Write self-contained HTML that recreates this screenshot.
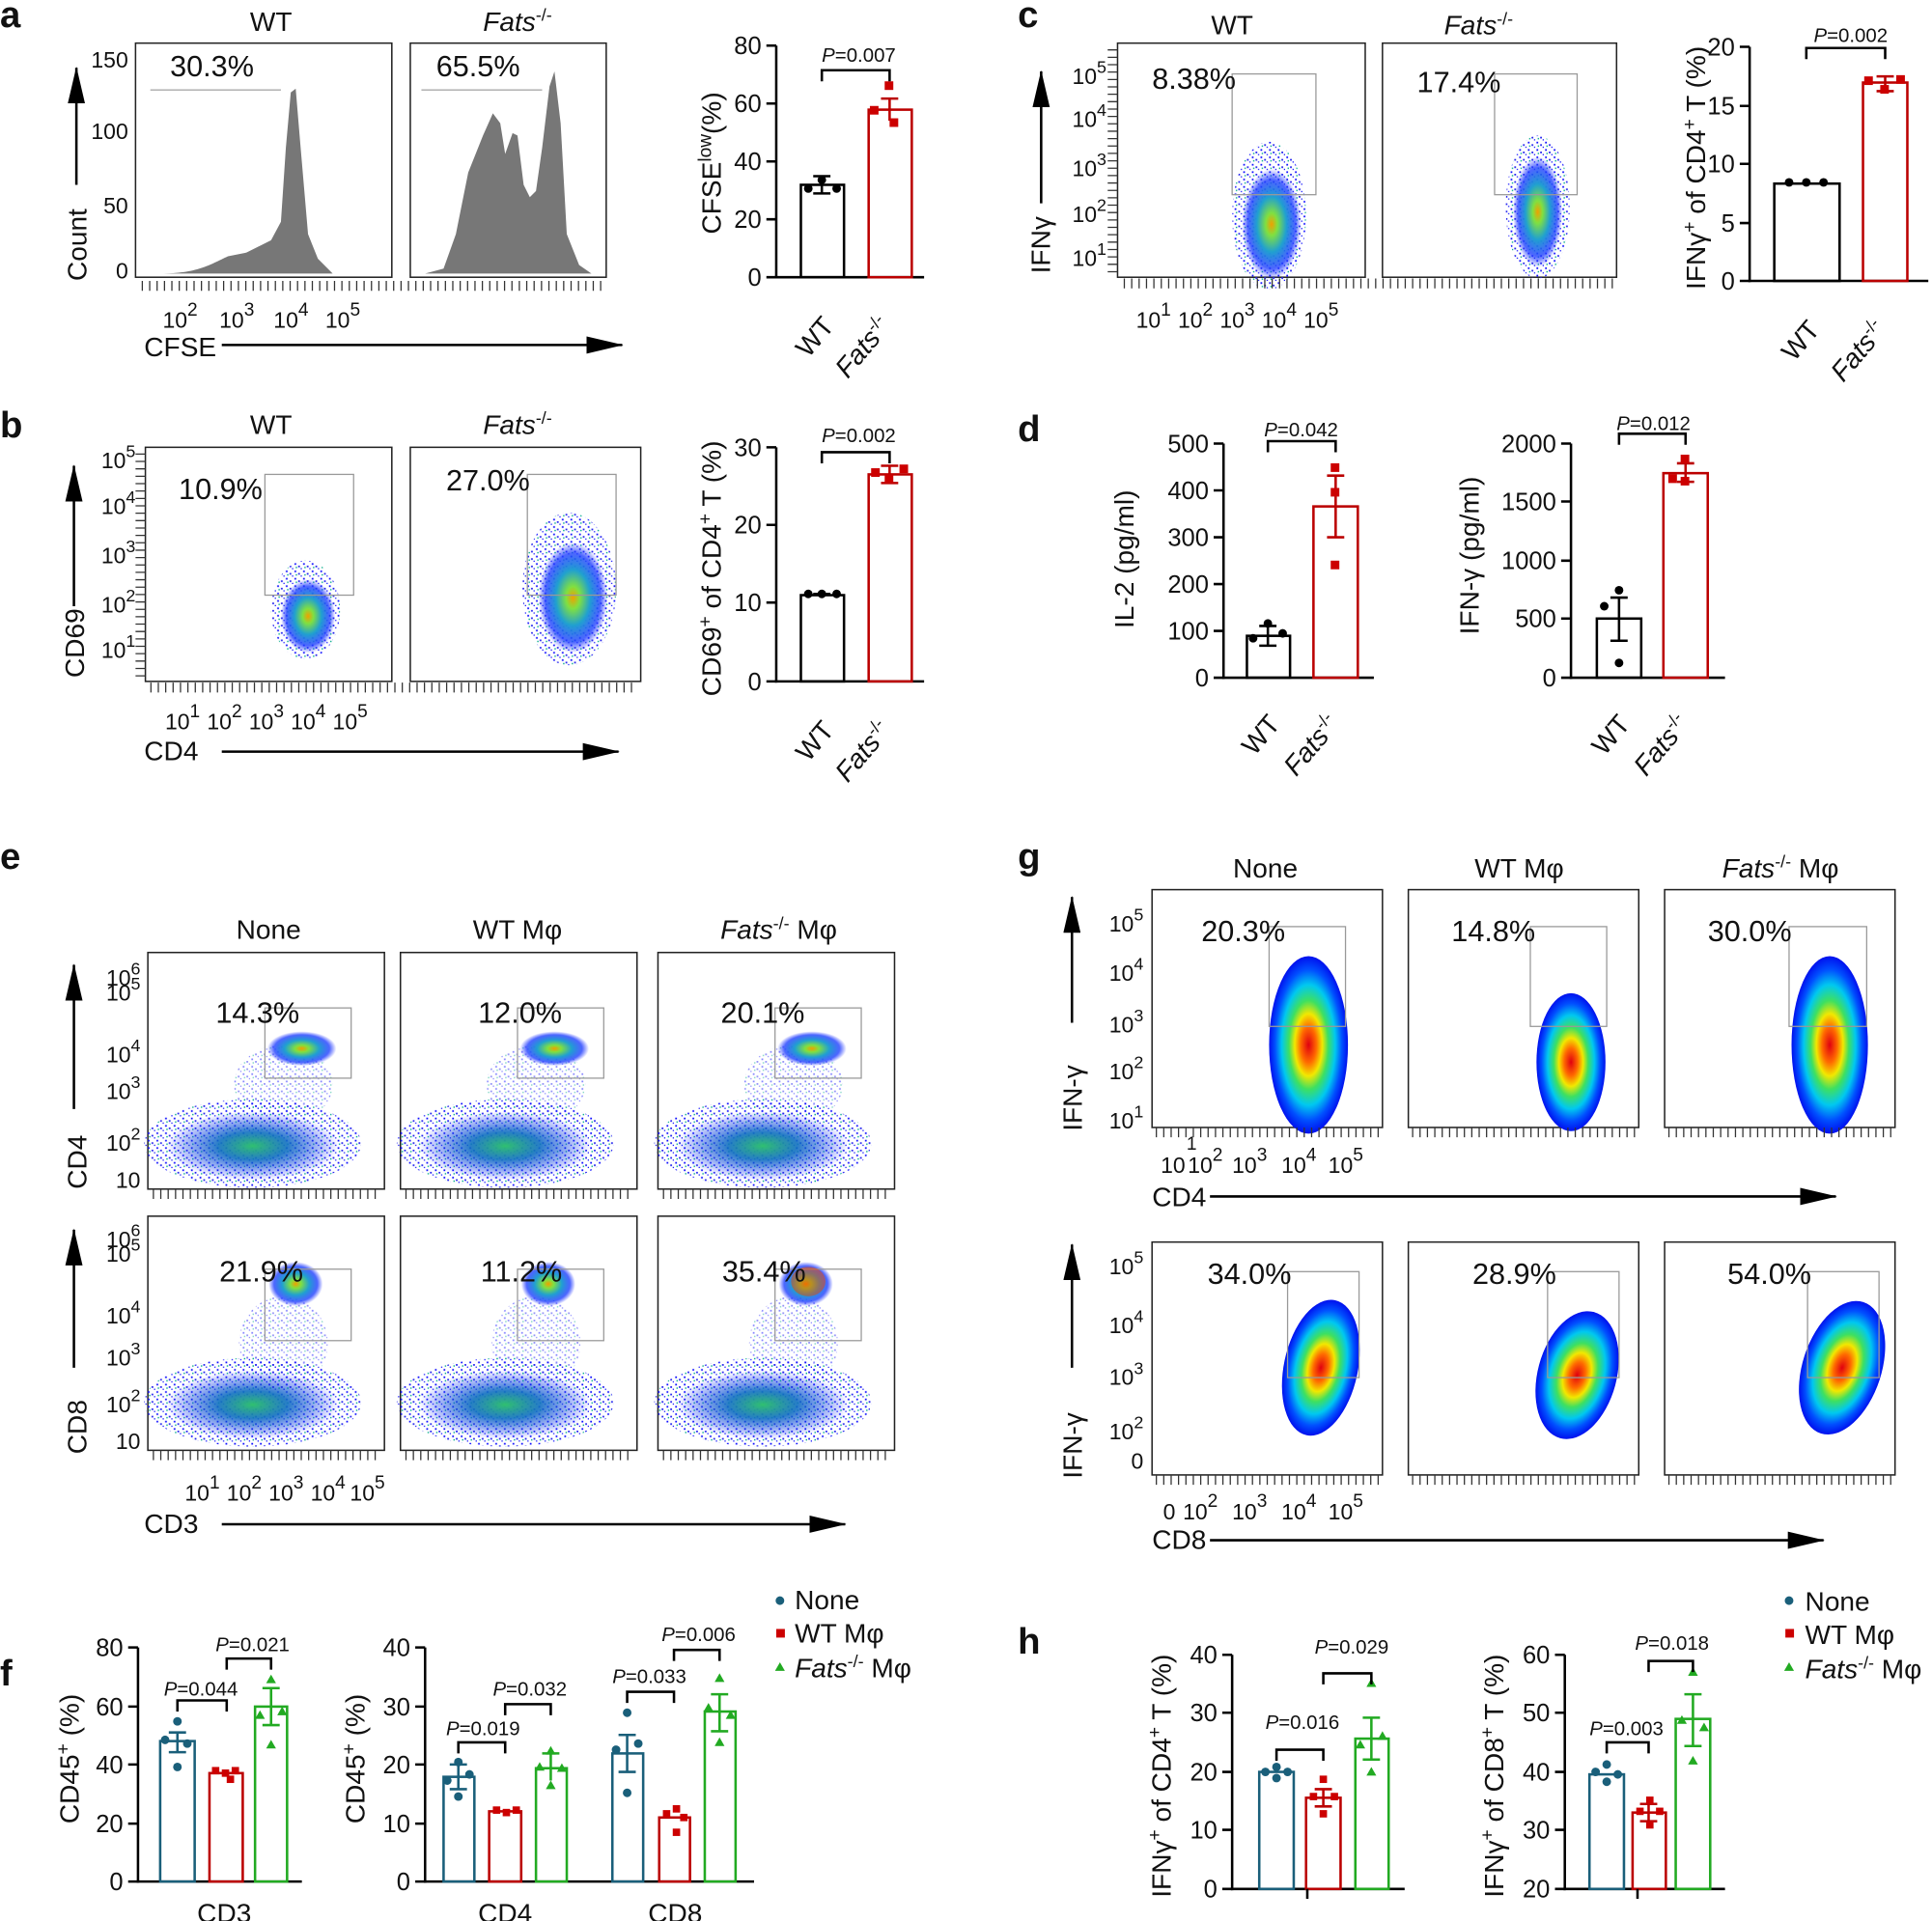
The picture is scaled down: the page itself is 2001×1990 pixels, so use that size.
<!DOCTYPE html>
<html><head><meta charset="utf-8"><style>
html,body{margin:0;padding:0;background:#fff}
svg{display:block}
text{font-family:"Liberation Sans",Arial,sans-serif;fill:#111}
.t{font-size:18px}.tt{font-size:22px}.tk{font-size:20px}.pc{font-size:24px}.p{font-size:16px}.lb{font-size:30px;font-weight:bold}
.bx{fill:none;stroke:#222;stroke-width:1.2}
.g{fill:none;stroke:#999;stroke-width:1}
.ax{stroke:#000;stroke-width:2;fill:none}
.mt{stroke:#333;stroke-width:8;stroke-dasharray:1 5;fill:none}
</style></head><body>
<svg width="2001" height="1990" viewBox="0 0 1568 1559" preserveAspectRatio="none" xmlns="http://www.w3.org/2000/svg">
<defs>
<radialGradient id="dg"><stop offset="0" stop-color="#e00010"/><stop offset=".2" stop-color="#ff6a00"/><stop offset=".35" stop-color="#f2e800"/><stop offset=".5" stop-color="#3ee060"/><stop offset=".68" stop-color="#00c8f0"/><stop offset=".85" stop-color="#0050ff"/><stop offset="1" stop-color="#0010ee"/></radialGradient>
<radialGradient id="sg"><stop offset="0" stop-color="#f0a000"/><stop offset=".2" stop-color="#80e040"/><stop offset=".5" stop-color="#20a0d0"/><stop offset=".8" stop-color="#2040ff" stop-opacity=".8"/><stop offset="1" stop-color="#2030ff" stop-opacity="0"/></radialGradient>
<radialGradient id="bg"><stop offset="0" stop-color="#30c070"/><stop offset=".4" stop-color="#1070c0" stop-opacity=".9"/><stop offset="1" stop-color="#1020ff" stop-opacity="0"/></radialGradient>
<pattern id="sp" width="7" height="6" patternUnits="userSpaceOnUse"><rect x="1" y="1" width="1.4" height="1.4" fill="#11f"/><rect x="4" y="3" width="1.4" height="1.4" fill="#22e"/><rect x="6" y="5" width="1.2" height="1.2" fill="#11f"/><rect x="2" y="4" width="1.1" height="1.1" fill="#0a8"/></pattern>
<marker id="ar2" markerWidth="30" markerHeight="14" refX="29" refY="7" orient="auto" markerUnits="userSpaceOnUse"><path d="M0,0 L30,7 L0,14Z" fill="#000"/></marker>
</defs>

<!-- ================= a ================= -->
<text x="0" y="22" class="lb">a</text>
<text x="220" y="25" class="tt" text-anchor="middle">WT</text>
<text x="420" y="25" class="tt" text-anchor="middle"><tspan font-style="italic">Fats</tspan><tspan dy="-8" font-size="14">-/-</tspan></text>
<rect x="110" y="35" width="208" height="190" class="bx"/>
<rect x="333" y="35" width="159" height="190" class="bx"/>
<path d="M130,222 C160,222 170,215 185,208 L200,205 210,200 220,195 228,180 232,120 236,75 240,72 244,120 250,190 258,210 270,222Z" fill="#777"/>
<path d="M345,222 L360,218 370,190 380,140 392,110 400,92 406,100 410,125 416,108 420,110 425,150 430,160 435,155 440,120 446,70 450,58 455,100 460,190 470,215 480,222Z" fill="#777"/>
<line x1="122" y1="73" x2="228" y2="73" stroke="#aaa"/><line x1="342" y1="73" x2="440" y2="73" stroke="#aaa"/>
<text x="138" y="62" class="pc">30.3%</text><text x="354" y="62" class="pc">65.5%</text>
<g class="t" text-anchor="end"><text x="104" y="55">150</text><text x="104" y="113">100</text><text x="104" y="173">50</text><text x="104" y="226">0</text></g>
<line x1="62" y1="150" x2="62" y2="55" class="ax" marker-end="url(#ar2)"/>
<text transform="translate(70,228) rotate(-90)" class="tt">Count</text>
<line x1="115" y1="232" x2="490" y2="232" class="mt"/>
<g class="t"><text x="132" y="266">10<tspan dy="-10" font-size="15">2</tspan></text><text x="178" y="266">10<tspan dy="-10" font-size="15">3</tspan></text><text x="222" y="266">10<tspan dy="-10" font-size="15">4</tspan></text><text x="264" y="266">10<tspan dy="-10" font-size="15">5</tspan></text></g>
<text x="117" y="289" class="tt">CFSE</text>
<line x1="180" y1="280" x2="505" y2="280" class="ax" marker-end="url(#ar2)"/>
<!-- bar a -->
<line x1="630" y1="37" x2="630" y2="226" class="ax"/><line x1="629" y1="225" x2="750" y2="225" class="ax"/>
<g class="ax"><path d="M622,37h8M622,84h8M622,131h8M622,178h8M622,225h8"/></g>
<g class="tk" text-anchor="end"><text x="618" y="44">80</text><text x="618" y="91">60</text><text x="618" y="138">40</text><text x="618" y="185">20</text><text x="618" y="232">0</text></g>
<text transform="translate(585,190) rotate(-90)" class="tt">CFSE<tspan dy="-8" font-size="15">low</tspan><tspan dy="8">(%)</tspan></text>
<rect x="650" y="150" width="35" height="75" fill="none" stroke="#000" stroke-width="2"/>
<rect x="705" y="89" width="35" height="136" fill="none" stroke="#b00" stroke-width="2"/>
<path d="M667,143v14M660,143h14M660,157h14" stroke="#000" stroke-width="2"/>
<path d="M722,80v18M715,80h14" stroke="#b00" stroke-width="2"/>
<circle cx="656" cy="153" r="3.5"/><circle cx="667" cy="146" r="3.5"/><circle cx="679" cy="153" r="3.5"/>
<rect x="718" y="66" width="7" height="7" fill="#c00"/><rect x="706" y="86" width="7" height="7" fill="#c00"/><rect x="722" y="96" width="7" height="7" fill="#c00"/>
<path d="M667,66v-9h55v9" class="ax" stroke-width="1.5"/>
<text x="697" y="50" class="p" text-anchor="middle"><tspan font-style="italic">P</tspan>=0.007</text>
<text transform="translate(678,265) rotate(-50)" class="tt" text-anchor="end">WT</text>
<text transform="translate(724,265) rotate(-50)" class="tt" text-anchor="end"><tspan font-style="italic">Fats</tspan><tspan dy="-8" font-size="14">-/-</tspan></text>

<!-- ================= b ================= -->
<text x="0" y="355" class="lb">b</text>
<text x="220" y="352" class="tt" text-anchor="middle">WT</text>
<text x="420" y="352" class="tt" text-anchor="middle"><tspan font-style="italic">Fats</tspan><tspan dy="-8" font-size="14">-/-</tspan></text>
<rect x="118" y="363" width="200" height="190" class="bx"/><rect x="333" y="363" width="187" height="190" class="bx"/>
<ellipse cx="248" cy="495" rx="28" ry="40" fill="url(#sp)"/><ellipse cx="250" cy="500" rx="22" ry="30" fill="url(#sg)"/>
<ellipse cx="462" cy="478" rx="38" ry="62" fill="url(#sp)"/><ellipse cx="465" cy="485" rx="28" ry="45" fill="url(#sg)"/>
<rect x="215" y="385" width="72" height="98" class="g"/><rect x="428" y="385" width="72" height="98" class="g"/>
<text x="145" y="405" class="pc">10.9%</text><text x="362" y="398" class="pc">27.0%</text>
<g class="t" text-anchor="end"><text x="110" y="380">10<tspan dy="-9" font-size="14">5</tspan></text><text x="110" y="417">10<tspan dy="-9" font-size="14">4</tspan></text><text x="110" y="457">10<tspan dy="-9" font-size="14">3</tspan></text><text x="110" y="497">10<tspan dy="-9" font-size="14">2</tspan></text><text x="110" y="534">10<tspan dy="-9" font-size="14">1</tspan></text></g>
<line x1="114" y1="368" x2="114" y2="550" class="mt" stroke-dasharray="1 4"/>
<line x1="122" y1="558" x2="515" y2="558" class="mt"/>
<line x1="60" y1="492" x2="60" y2="378" class="ax" marker-end="url(#ar2)"/>
<text transform="translate(68,550) rotate(-90)" class="tt">CD69</text>
<g class="t"><text x="134" y="592">10<tspan dy="-10" font-size="15">1</tspan></text><text x="168" y="592">10<tspan dy="-10" font-size="15">2</tspan></text><text x="202" y="592">10<tspan dy="-10" font-size="15">3</tspan></text><text x="236" y="592">10<tspan dy="-10" font-size="15">4</tspan></text><text x="270" y="592">10<tspan dy="-10" font-size="15">5</tspan></text></g>
<text x="117" y="617" class="tt">CD4</text>
<line x1="180" y1="610" x2="502" y2="610" class="ax" marker-end="url(#ar2)"/>
<line x1="630" y1="363" x2="630" y2="554" class="ax"/><line x1="629" y1="553" x2="750" y2="553" class="ax"/>
<path d="M622,363h8M622,426h8M622,489h8M622,553h8" class="ax"/>
<g class="tk" text-anchor="end"><text x="618" y="370">30</text><text x="618" y="433">20</text><text x="618" y="496">10</text><text x="618" y="560">0</text></g>
<text transform="translate(585,565) rotate(-90)" class="tt">CD69<tspan dy="-8" font-size="15">+</tspan><tspan dy="8"> of CD4</tspan><tspan dy="-8" font-size="15">+</tspan><tspan dy="8"> T (%)</tspan></text>
<rect x="650" y="483" width="35" height="70" fill="none" stroke="#000" stroke-width="2"/>
<rect x="705" y="385" width="35" height="168" fill="none" stroke="#b00" stroke-width="2"/>
<path d="M660,482h14" stroke="#000" stroke-width="2"/>
<circle cx="656" cy="482" r="3.5"/><circle cx="667" cy="482" r="3.5"/><circle cx="679" cy="482" r="3.5"/>
<path d="M722,378v14M715,378h14M715,392h14" stroke="#b00" stroke-width="2"/>
<rect x="707" y="380" width="7" height="7" fill="#c00"/><rect x="718" y="385" width="7" height="7" fill="#c00"/><rect x="730" y="377" width="7" height="7" fill="#c00"/>
<path d="M667,376v-9h55v9" class="ax" stroke-width="1.5"/>
<text x="697" y="359" class="p" text-anchor="middle"><tspan font-style="italic">P</tspan>=0.002</text>
<text transform="translate(678,593) rotate(-50)" class="tt" text-anchor="end">WT</text>
<text transform="translate(724,593) rotate(-50)" class="tt" text-anchor="end"><tspan font-style="italic">Fats</tspan><tspan dy="-8" font-size="14">-/-</tspan></text>

<!-- ================= c ================= -->
<text x="826" y="22" class="lb">c</text>
<text x="1000" y="28" class="tt" text-anchor="middle">WT</text>
<text x="1200" y="28" class="tt" text-anchor="middle"><tspan font-style="italic">Fats</tspan><tspan dy="-8" font-size="14">-/-</tspan></text>
<rect x="907" y="35" width="201" height="190" class="bx"/><rect x="1122" y="35" width="190" height="190" class="bx"/>
<ellipse cx="1030" cy="175" rx="30" ry="60" fill="url(#sp)"/><ellipse cx="1032" cy="182" rx="24" ry="45" fill="url(#sg)"/>
<ellipse cx="1248" cy="168" rx="26" ry="58" fill="url(#sp)"/><ellipse cx="1248" cy="172" rx="20" ry="45" fill="url(#sg)"/>
<rect x="1000" y="60" width="68" height="98" class="g"/><rect x="1213" y="60" width="67" height="98" class="g"/>
<text x="935" y="72" class="pc">8.38%</text><text x="1150" y="75" class="pc">17.4%</text>
<g class="t" text-anchor="end"><text x="898" y="68">10<tspan dy="-9" font-size="14">5</tspan></text><text x="898" y="103">10<tspan dy="-9" font-size="14">4</tspan></text><text x="898" y="143">10<tspan dy="-9" font-size="14">3</tspan></text><text x="898" y="180">10<tspan dy="-9" font-size="14">2</tspan></text><text x="898" y="216">10<tspan dy="-9" font-size="14">1</tspan></text></g>
<line x1="903" y1="40" x2="903" y2="222" class="mt" stroke-dasharray="1 4"/>
<line x1="912" y1="230" x2="1310" y2="230" class="mt"/>
<line x1="845" y1="165" x2="845" y2="58" class="ax" marker-end="url(#ar2)"/>
<text transform="translate(852,222) rotate(-90)" class="tt">IFNγ</text>
<g class="t"><text x="922" y="266">10<tspan dy="-10" font-size="15">1</tspan></text><text x="956" y="266">10<tspan dy="-10" font-size="15">2</tspan></text><text x="990" y="266">10<tspan dy="-10" font-size="15">3</tspan></text><text x="1024" y="266">10<tspan dy="-10" font-size="15">4</tspan></text><text x="1058" y="266">10<tspan dy="-10" font-size="15">5</tspan></text></g>
<line x1="1420" y1="38" x2="1420" y2="229" class="ax"/><line x1="1419" y1="228" x2="1565" y2="228" class="ax"/>
<path d="M1412,38h8M1412,86h8M1412,133h8M1412,181h8M1412,228h8" class="ax"/>
<g class="tk" text-anchor="end"><text x="1408" y="45">20</text><text x="1408" y="93">15</text><text x="1408" y="140">10</text><text x="1408" y="188">5</text><text x="1408" y="235">0</text></g>
<text transform="translate(1384,235) rotate(-90)" class="tt">IFNγ<tspan dy="-8" font-size="15">+</tspan><tspan dy="8"> of CD4</tspan><tspan dy="-8" font-size="15">+</tspan><tspan dy="8"> T (%)</tspan></text>
<rect x="1440" y="149" width="53" height="79" fill="none" stroke="#000" stroke-width="2"/>
<rect x="1512" y="67" width="36" height="161" fill="none" stroke="#b00" stroke-width="2"/>
<circle cx="1452" cy="148" r="3.5"/><circle cx="1466" cy="148" r="3.5"/><circle cx="1480" cy="148" r="3.5"/>
<path d="M1530,62v12M1523,62h14M1523,74h14" stroke="#b00" stroke-width="2"/>
<rect x="1513" y="62" width="7" height="7" fill="#c00"/><rect x="1526" y="69" width="7" height="7" fill="#c00"/><rect x="1539" y="61" width="7" height="7" fill="#c00"/>
<path d="M1466,48v-9h64v9" class="ax" stroke-width="1.5"/>
<text x="1502" y="34" class="p" text-anchor="middle"><tspan font-style="italic">P</tspan>=0.002</text>
<text transform="translate(1478,268) rotate(-50)" class="tt" text-anchor="end">WT</text>
<text transform="translate(1532,268) rotate(-50)" class="tt" text-anchor="end"><tspan font-style="italic">Fats</tspan><tspan dy="-8" font-size="14">-/-</tspan></text>

<!-- ================= d ================= -->
<text x="826" y="358" class="lb">d</text>
<line x1="993" y1="360" x2="993" y2="551" class="ax"/><line x1="992" y1="550" x2="1115" y2="550" class="ax"/>
<path d="M985,360h8M985,398h8M985,436h8M985,474h8M985,512h8M985,550h8" class="ax"/>
<g class="tk" text-anchor="end"><text x="981" y="367">500</text><text x="981" y="405">400</text><text x="981" y="443">300</text><text x="981" y="481">200</text><text x="981" y="519">100</text><text x="981" y="557">0</text></g>
<text transform="translate(920,510) rotate(-90)" class="tt">IL-2 (pg/ml)</text>
<rect x="1012" y="516" width="35" height="34" fill="none" stroke="#000" stroke-width="2"/>
<rect x="1066" y="411" width="36" height="139" fill="none" stroke="#b00" stroke-width="2"/>
<path d="M1029,508v16M1022,508h14M1022,524h14" stroke="#000" stroke-width="2"/>
<circle cx="1029" cy="506" r="3.5"/><circle cx="1017" cy="518" r="3.5"/><circle cx="1041" cy="514" r="3.5"/>
<path d="M1084,386v50M1077,386h14M1077,436h14" stroke="#b00" stroke-width="2"/>
<rect x="1080" y="376" width="7" height="7" fill="#c00"/><rect x="1080" y="396" width="7" height="7" fill="#c00"/><rect x="1080" y="455" width="7" height="7" fill="#c00"/>
<path d="M1029,367v-9h55v9" class="ax" stroke-width="1.5"/>
<text x="1056" y="354" class="p" text-anchor="middle"><tspan font-style="italic">P</tspan>=0.042</text>
<text transform="translate(1040,588) rotate(-50)" class="tt" text-anchor="end">WT</text>
<text transform="translate(1088,588) rotate(-50)" class="tt" text-anchor="end"><tspan font-style="italic">Fats</tspan><tspan dy="-8" font-size="14">-/-</tspan></text>
<line x1="1275" y1="360" x2="1275" y2="551" class="ax"/><line x1="1274" y1="550" x2="1400" y2="550" class="ax"/>
<path d="M1267,360h8M1267,407h8M1267,455h8M1267,502h8M1267,550h8" class="ax"/>
<g class="tk" text-anchor="end"><text x="1263" y="367">2000</text><text x="1263" y="414">1500</text><text x="1263" y="462">1000</text><text x="1263" y="509">500</text><text x="1263" y="557">0</text></g>
<text transform="translate(1200,515) rotate(-90)" class="tt">IFN-γ (pg/ml)</text>
<rect x="1296" y="502" width="36" height="48" fill="none" stroke="#000" stroke-width="2"/>
<rect x="1350" y="384" width="36" height="166" fill="none" stroke="#b00" stroke-width="2"/>
<path d="M1314,485v35M1307,485h14M1307,520h14" stroke="#000" stroke-width="2"/>
<circle cx="1314" cy="479" r="3.5"/><circle cx="1302" cy="492" r="3.5"/><circle cx="1314" cy="538" r="3.5"/>
<path d="M1368,376v15M1361,376h14M1361,391h14" stroke="#b00" stroke-width="2"/>
<rect x="1364" y="369" width="7" height="7" fill="#c00"/><rect x="1354" y="385" width="7" height="7" fill="#c00"/><rect x="1364" y="387" width="7" height="7" fill="#c00"/>
<path d="M1314,361v-9h54v9" class="ax" stroke-width="1.5"/>
<text x="1342" y="349" class="p" text-anchor="middle"><tspan font-style="italic">P</tspan>=0.012</text>
<text transform="translate(1324,588) rotate(-50)" class="tt" text-anchor="end">WT</text>
<text transform="translate(1372,588) rotate(-50)" class="tt" text-anchor="end"><tspan font-style="italic">Fats</tspan><tspan dy="-8" font-size="14">-/-</tspan></text>

<!-- ================= e ================= -->
<text x="0" y="705" class="lb">e</text>
<text x="218" y="762" class="tt" text-anchor="middle">None</text>
<text x="420" y="762" class="tt" text-anchor="middle">WT Mφ</text>
<text x="632" y="762" class="tt" text-anchor="middle"><tspan font-style="italic">Fats</tspan><tspan dy="-8" font-size="14">-/-</tspan><tspan dy="8"> Mφ</tspan></text>
<g id="erow">
<rect x="120" y="773" width="192" height="192" class="bx"/>
<ellipse cx="205" cy="928" rx="88" ry="36" fill="url(#sp)"/>
<ellipse cx="205" cy="930" rx="70" ry="28" fill="url(#bg)"/>
<ellipse cx="230" cy="880" rx="40" ry="32" fill="url(#sp)" opacity=".5"/>
<ellipse cx="245" cy="851" rx="28" ry="14" fill="url(#sg)"/>
<rect x="215" y="818" width="70" height="57" class="g"/>
</g>
<use href="#erow" x="205"/><use href="#erow" x="414"/>
<g id="erow2">
<rect x="120" y="987" width="192" height="190" class="bx"/>
<ellipse cx="205" cy="1138" rx="88" ry="36" fill="url(#sp)"/>
<ellipse cx="205" cy="1140" rx="70" ry="28" fill="url(#bg)"/>
<ellipse cx="230" cy="1090" rx="36" ry="38" fill="url(#sp)" opacity=".5"/>
<ellipse cx="240" cy="1042" rx="22" ry="18" fill="url(#sg)"/>
<rect x="215" y="1030" width="70" height="58" class="g"/>
</g>
<use href="#erow2" x="205"/><use href="#erow2" x="414"/>
<ellipse cx="656" cy="1040" rx="14" ry="12" fill="#f04000" opacity=".5"/>
<g class="pc"><text x="175" y="830">14.3%</text><text x="388" y="830">12.0%</text><text x="585" y="830">20.1%</text>
<text x="178" y="1040">21.9%</text><text x="390" y="1040">11.2%</text><text x="586" y="1040">35.4%</text></g>
<g class="t" text-anchor="end"><text x="114" y="800">10<tspan dy="-9" font-size="14">6</tspan></text><text x="114" y="812">10<tspan dy="-9" font-size="14">5</tspan></text><text x="114" y="862">10<tspan dy="-9" font-size="14">4</tspan></text><text x="114" y="892">10<tspan dy="-9" font-size="14">3</tspan></text><text x="114" y="934">10<tspan dy="-9" font-size="14">2</tspan></text><text x="114" y="964">10</text>
<text x="114" y="1012">10<tspan dy="-9" font-size="14">6</tspan></text><text x="114" y="1024">10<tspan dy="-9" font-size="14">5</tspan></text><text x="114" y="1074">10<tspan dy="-9" font-size="14">4</tspan></text><text x="114" y="1108">10<tspan dy="-9" font-size="14">3</tspan></text><text x="114" y="1146">10<tspan dy="-9" font-size="14">2</tspan></text><text x="114" y="1176">10</text></g>
<line x1="60" y1="900" x2="60" y2="783" class="ax" marker-end="url(#ar2)"/>
<line x1="60" y1="1110" x2="60" y2="998" class="ax" marker-end="url(#ar2)"/>
<text transform="translate(70,965) rotate(-90)" class="tt">CD4</text>
<text transform="translate(70,1180) rotate(-90)" class="tt">CD8</text>
<line x1="124" y1="969" x2="310" y2="969" class="mt"/><line x1="329" y1="969" x2="512" y2="969" class="mt"/><line x1="538" y1="969" x2="722" y2="969" class="mt"/>
<line x1="124" y1="1181" x2="310" y2="1181" class="mt"/><line x1="329" y1="1181" x2="512" y2="1181" class="mt"/><line x1="538" y1="1181" x2="722" y2="1181" class="mt"/>
<g class="t"><text x="150" y="1218">10<tspan dy="-10" font-size="15">1</tspan></text><text x="184" y="1218">10<tspan dy="-10" font-size="15">2</tspan></text><text x="218" y="1218">10<tspan dy="-10" font-size="15">3</tspan></text><text x="252" y="1218">10<tspan dy="-10" font-size="15">4</tspan></text><text x="284" y="1218">10<tspan dy="-10" font-size="15">5</tspan></text></g>
<text x="117" y="1244" class="tt">CD3</text>
<line x1="180" y1="1237" x2="686" y2="1237" class="ax" marker-end="url(#ar2)"/>

<!-- ================= g ================= -->
<text x="826" y="705" class="lb">g</text>
<text x="1027" y="712" class="tt" text-anchor="middle">None</text>
<text x="1233" y="712" class="tt" text-anchor="middle">WT Mφ</text>
<text x="1445" y="712" class="tt" text-anchor="middle"><tspan font-style="italic">Fats</tspan><tspan dy="-8" font-size="14">-/-</tspan><tspan dy="8"> Mφ</tspan></text>
<rect x="935" y="722" width="187" height="193" class="bx"/><rect x="1143" y="722" width="187" height="193" class="bx"/><rect x="1351" y="722" width="187" height="193" class="bx"/>
<ellipse cx="1062" cy="848" rx="32" ry="72" fill="url(#dg)"/>
<ellipse cx="1275" cy="862" rx="28" ry="56" fill="url(#dg)"/>
<ellipse cx="1485" cy="848" rx="31" ry="72" fill="url(#dg)"/>
<rect x="1030" y="752" width="62" height="81" class="g"/><rect x="1242" y="752" width="62" height="81" class="g"/><rect x="1452" y="752" width="63" height="81" class="g"/>
<g class="pc"><text x="975" y="764">20.3%</text><text x="1178" y="764">14.8%</text><text x="1386" y="764">30.0%</text></g>
<rect x="935" y="1008" width="187" height="189" class="bx"/><rect x="1143" y="1008" width="187" height="189" class="bx"/><rect x="1351" y="1008" width="187" height="189" class="bx"/>
<ellipse cx="1072" cy="1110" rx="30" ry="56" fill="url(#dg)" transform="rotate(12 1072 1110)"/>
<ellipse cx="1280" cy="1116" rx="32" ry="53" fill="url(#dg)" transform="rotate(15 1280 1116)"/>
<ellipse cx="1495" cy="1110" rx="32" ry="56" fill="url(#dg)" transform="rotate(18 1495 1110)"/>
<rect x="1045" y="1032" width="58" height="86" class="g"/><rect x="1256" y="1032" width="58" height="86" class="g"/><rect x="1467" y="1032" width="58" height="86" class="g"/>
<g class="pc"><text x="980" y="1042">34.0%</text><text x="1195" y="1042">28.9%</text><text x="1402" y="1042">54.0%</text></g>
<g class="t" text-anchor="end"><text x="928" y="756">10<tspan dy="-9" font-size="14">5</tspan></text><text x="928" y="796">10<tspan dy="-9" font-size="14">4</tspan></text><text x="928" y="838">10<tspan dy="-9" font-size="14">3</tspan></text><text x="928" y="876">10<tspan dy="-9" font-size="14">2</tspan></text><text x="928" y="916">10<tspan dy="-9" font-size="14">1</tspan></text>
<text x="928" y="1034">10<tspan dy="-9" font-size="14">5</tspan></text><text x="928" y="1082">10<tspan dy="-9" font-size="14">4</tspan></text><text x="928" y="1124">10<tspan dy="-9" font-size="14">3</tspan></text><text x="928" y="1168">10<tspan dy="-9" font-size="14">2</tspan></text><text x="928" y="1192">0</text></g>
<line x1="870" y1="830" x2="870" y2="728" class="ax" marker-end="url(#ar2)"/>
<line x1="870" y1="1110" x2="870" y2="1010" class="ax" marker-end="url(#ar2)"/>
<text transform="translate(878,918) rotate(-90)" class="tt">IFN-γ</text>
<text transform="translate(878,1200) rotate(-90)" class="tt">IFN-γ</text>
<line x1="938" y1="919" x2="1120" y2="919" class="mt"/><line x1="1146" y1="919" x2="1328" y2="919" class="mt"/><line x1="1354" y1="919" x2="1536" y2="919" class="mt"/>
<line x1="938" y1="1201" x2="1120" y2="1201" class="mt"/><line x1="1146" y1="1201" x2="1328" y2="1201" class="mt"/><line x1="1354" y1="1201" x2="1536" y2="1201" class="mt"/>
<g class="t"><text x="942" y="952">10</text><text x="964" y="952">10<tspan dy="-10" font-size="15">2</tspan></text><text x="1000" y="952">10<tspan dy="-10" font-size="15">3</tspan></text><text x="1040" y="952">10<tspan dy="-10" font-size="15">4</tspan></text><text x="1078" y="952">10<tspan dy="-10" font-size="15">5</tspan></text><text x="963" y="933" font-size="15">1</text>
<text x="944" y="1233">0</text><text x="960" y="1233">10<tspan dy="-10" font-size="15">2</tspan></text><text x="1000" y="1233">10<tspan dy="-10" font-size="15">3</tspan></text><text x="1040" y="1233">10<tspan dy="-10" font-size="15">4</tspan></text><text x="1078" y="1233">10<tspan dy="-10" font-size="15">5</tspan></text></g>
<text x="935" y="979" class="tt">CD4</text>
<line x1="982" y1="971" x2="1490" y2="971" class="ax" marker-end="url(#ar2)"/>
<text x="935" y="1257" class="tt">CD8</text>
<line x1="982" y1="1250" x2="1480" y2="1250" class="ax" marker-end="url(#ar2)"/>

<!-- ================= f ================= -->
<text x="0" y="1368" class="lb">f</text>
<g class="tt"><circle cx="633" cy="1299" r="3.5" fill="#1a5f7a"/><text x="645" y="1306">None</text>
<rect x="630" y="1322" width="7" height="7" fill="#c00"/><text x="645" y="1333">WT Mφ</text>
<path d="M633,1349l4,7h-8z" fill="#2a2"/><text x="645" y="1361"><tspan font-style="italic">Fats</tspan><tspan dy="-8" font-size="14">-/-</tspan><tspan dy="8"> Mφ</tspan></text></g>
<line x1="112" y1="1337" x2="112" y2="1528" class="ax"/><line x1="111" y1="1527" x2="245" y2="1527" class="ax"/>
<path d="M104,1337h8M104,1385h8M104,1432h8M104,1480h8M104,1527h8" class="ax"/>
<g class="tk" text-anchor="end"><text x="100" y="1344">80</text><text x="100" y="1392">60</text><text x="100" y="1439">40</text><text x="100" y="1487">20</text><text x="100" y="1534">0</text></g>
<text transform="translate(64,1480) rotate(-90)" class="tt">CD45<tspan dy="-8" font-size="15">+</tspan><tspan dy="8"> (%)</tspan></text>
<rect x="130" y="1413" width="28" height="114" fill="none" stroke="#1a5f7a" stroke-width="2"/>
<rect x="170" y="1439" width="27" height="88" fill="none" stroke="#b00" stroke-width="2"/>
<rect x="207" y="1385" width="26" height="142" fill="none" stroke="#2a2" stroke-width="2"/>
<path d="M144,1406v16M137,1406h14M137,1422h14" stroke="#1a5f7a" stroke-width="2"/>
<circle cx="144" cy="1397" r="3.5" fill="#1a5f7a"/><circle cx="134" cy="1412" r="3.5" fill="#1a5f7a"/><circle cx="152" cy="1415" r="3.5" fill="#1a5f7a"/><circle cx="144" cy="1434" r="3.5" fill="#1a5f7a"/>
<rect x="172" y="1434" width="6" height="6" fill="#c00"/><rect x="180" y="1436" width="6" height="6" fill="#c00"/><rect x="188" y="1434" width="6" height="6" fill="#c00"/><rect x="184" y="1441" width="6" height="6" fill="#c00"/>
<path d="M220,1370v30M213,1370h14M213,1400h14" stroke="#2a2" stroke-width="2"/>
<path d="M220,1359l4,7h-8z M211,1388l4,7h-8z M229,1385l4,7h-8z M220,1412l4,7h-8z" fill="#2a2"/>
<path d="M144,1389v-9h40v9" class="ax" stroke-width="1.5"/><path d="M184,1355v-9h36v9" class="ax" stroke-width="1.5"/>
<text x="163" y="1376" class="p" text-anchor="middle"><tspan font-style="italic">P</tspan>=0.044</text>
<text x="205" y="1340" class="p" text-anchor="middle"><tspan font-style="italic">P</tspan>=0.021</text>
<text x="182" y="1560" class="tt" text-anchor="middle">CD3</text>

<line x1="345" y1="1337" x2="345" y2="1528" class="ax"/><line x1="344" y1="1527" x2="612" y2="1527" class="ax"/>
<path d="M337,1337h8M337,1385h8M337,1432h8M337,1480h8M337,1527h8" class="ax"/>
<g class="tk" text-anchor="end"><text x="333" y="1344">40</text><text x="333" y="1392">30</text><text x="333" y="1439">20</text><text x="333" y="1487">10</text><text x="333" y="1534">0</text></g>
<text transform="translate(296,1480) rotate(-90)" class="tt">CD45<tspan dy="-8" font-size="15">+</tspan><tspan dy="8"> (%)</tspan></text>
<rect x="360" y="1442" width="25" height="85" fill="none" stroke="#1a5f7a" stroke-width="2"/>
<rect x="397" y="1470" width="26" height="57" fill="none" stroke="#b00" stroke-width="2"/>
<rect x="435" y="1435" width="25" height="92" fill="none" stroke="#2a2" stroke-width="2"/>
<rect x="497" y="1423" width="25" height="104" fill="none" stroke="#1a5f7a" stroke-width="2"/>
<rect x="535" y="1475" width="25" height="52" fill="none" stroke="#b00" stroke-width="2"/>
<rect x="572" y="1389" width="25" height="138" fill="none" stroke="#2a2" stroke-width="2"/>
<circle cx="372" cy="1430" r="3.5" fill="#1a5f7a"/><circle cx="363" cy="1445" r="3.5" fill="#1a5f7a"/><circle cx="381" cy="1440" r="3.5" fill="#1a5f7a"/><circle cx="372" cy="1458" r="3.5" fill="#1a5f7a"/>
<path d="M372,1432v20M365,1432h14M365,1452h14" stroke="#1a5f7a" stroke-width="2"/>
<rect x="400" y="1466" width="6" height="6" fill="#c00"/><rect x="408" y="1468" width="6" height="6" fill="#c00"/><rect x="416" y="1466" width="6" height="6" fill="#c00"/>
<path d="M447,1423v22M440,1423h14" stroke="#2a2" stroke-width="2"/>
<path d="M447,1417l4,7h-8z M438,1430l4,7h-8z M456,1431l4,7h-8z M447,1445l4,7h-8z" fill="#2a2"/>
<circle cx="509" cy="1390" r="3.5" fill="#1a5f7a"/><circle cx="500" cy="1420" r="3.5" fill="#1a5f7a"/><circle cx="518" cy="1415" r="3.5" fill="#1a5f7a"/><circle cx="509" cy="1455" r="3.5" fill="#1a5f7a"/>
<path d="M509,1408v30M502,1408h14M502,1438h14" stroke="#1a5f7a" stroke-width="2"/>
<rect x="538" y="1469" width="6" height="6" fill="#c00"/><rect x="546" y="1465" width="6" height="6" fill="#c00"/><rect x="552" y="1472" width="6" height="6" fill="#c00"/><rect x="546" y="1484" width="6" height="6" fill="#c00"/>
<path d="M584,1375v30M577,1375h14M577,1405h14" stroke="#2a2" stroke-width="2"/>
<path d="M584,1358l4,7h-8z M575,1382l4,7h-8z M593,1388l4,7h-8z M584,1410l4,7h-8z" fill="#2a2"/>
<path d="M372,1423v-9h38v9" class="ax" stroke-width="1.5"/><path d="M410,1392v-9h37v9" class="ax" stroke-width="1.5"/>
<path d="M509,1382v-9h38v9" class="ax" stroke-width="1.5"/><path d="M547,1348v-9h37v9" class="ax" stroke-width="1.5"/>
<g class="p" text-anchor="middle"><text x="392" y="1408"><tspan font-style="italic">P</tspan>=0.019</text><text x="430" y="1376"><tspan font-style="italic">P</tspan>=0.032</text><text x="527" y="1366"><tspan font-style="italic">P</tspan>=0.033</text><text x="567" y="1332"><tspan font-style="italic">P</tspan>=0.006</text></g>
<text x="410" y="1560" class="tt" text-anchor="middle">CD4</text><text x="548" y="1560" class="tt" text-anchor="middle">CD8</text>

<!-- ================= h ================= -->
<text x="826" y="1342" class="lb">h</text>
<g class="tt"><circle cx="1452" cy="1299" r="3.5" fill="#1a5f7a"/><text x="1465" y="1307">None</text>
<rect x="1449" y="1322" width="7" height="7" fill="#c00"/><text x="1465" y="1334">WT Mφ</text>
<path d="M1452,1349l4,7h-8z" fill="#2a2"/><text x="1465" y="1362"><tspan font-style="italic">Fats</tspan><tspan dy="-8" font-size="14">-/-</tspan><tspan dy="8"> Mφ</tspan></text></g>
<line x1="1000" y1="1343" x2="1000" y2="1534" class="ax"/><line x1="999" y1="1533" x2="1140" y2="1533" class="ax"/>
<path d="M992,1343h8M992,1390h8M992,1438h8M992,1485h8M992,1533h8" class="ax"/>
<g class="tk" text-anchor="end"><text x="988" y="1350">40</text><text x="988" y="1397">30</text><text x="988" y="1445">20</text><text x="988" y="1492">10</text><text x="988" y="1540">0</text></g>
<text transform="translate(950,1540) rotate(-90)" class="tt">IFNγ<tspan dy="-8" font-size="15">+</tspan><tspan dy="8"> of CD4</tspan><tspan dy="-8" font-size="15">+</tspan><tspan dy="8"> T (%)</tspan></text>
<rect x="1022" y="1438" width="28" height="95" fill="none" stroke="#1a5f7a" stroke-width="2"/>
<rect x="1060" y="1459" width="28" height="74" fill="none" stroke="#b00" stroke-width="2"/>
<rect x="1100" y="1411" width="27" height="122" fill="none" stroke="#2a2" stroke-width="2"/>
<circle cx="1027" cy="1438" r="3.5" fill="#1a5f7a"/><circle cx="1036" cy="1434" r="3.5" fill="#1a5f7a"/><circle cx="1045" cy="1438" r="3.5" fill="#1a5f7a"/><circle cx="1036" cy="1443" r="3.5" fill="#1a5f7a"/>
<path d="M1074,1452v14M1067,1452h14M1067,1466h14" stroke="#b00" stroke-width="2"/>
<rect x="1063" y="1455" width="6" height="6" fill="#c00"/><rect x="1071" y="1441" width="6" height="6" fill="#c00"/><rect x="1080" y="1455" width="6" height="6" fill="#c00"/><rect x="1071" y="1469" width="6" height="6" fill="#c00"/>
<path d="M1113,1394v34M1106,1394h14M1106,1428h14" stroke="#2a2" stroke-width="2"/>
<path d="M1113,1362l4,7h-8z M1104,1412l4,7h-8z M1122,1405l4,7h-8z M1113,1434l4,7h-8z" fill="#2a2"/>
<path d="M1036,1429v-9h38v9" class="ax" stroke-width="1.5"/><path d="M1074,1367v-9h39v9" class="ax" stroke-width="1.5"/>
<g class="p" text-anchor="middle"><text x="1057" y="1403"><tspan font-style="italic">P</tspan>=0.016</text><text x="1097" y="1342"><tspan font-style="italic">P</tspan>=0.029</text></g>
<line x1="1270" y1="1343" x2="1270" y2="1534" class="ax"/><line x1="1269" y1="1533" x2="1400" y2="1533" class="ax"/>
<path d="M1262,1343h8M1262,1390h8M1262,1438h8M1262,1485h8M1262,1533h8" class="ax"/>
<g class="tk" text-anchor="end"><text x="1258" y="1350">60</text><text x="1258" y="1397">50</text><text x="1258" y="1445">40</text><text x="1258" y="1492">30</text><text x="1258" y="1540">20</text></g>
<text transform="translate(1220,1540) rotate(-90)" class="tt">IFNγ<tspan dy="-8" font-size="15">+</tspan><tspan dy="8"> of CD8</tspan><tspan dy="-8" font-size="15">+</tspan><tspan dy="8"> T (%)</tspan></text>
<rect x="1290" y="1440" width="28" height="93" fill="none" stroke="#1a5f7a" stroke-width="2"/>
<rect x="1325" y="1471" width="27" height="62" fill="none" stroke="#b00" stroke-width="2"/>
<rect x="1360" y="1395" width="28" height="138" fill="none" stroke="#2a2" stroke-width="2"/>
<circle cx="1295" cy="1438" r="3.5" fill="#1a5f7a"/><circle cx="1304" cy="1432" r="3.5" fill="#1a5f7a"/><circle cx="1313" cy="1440" r="3.5" fill="#1a5f7a"/><circle cx="1304" cy="1446" r="3.5" fill="#1a5f7a"/>
<path d="M1338,1464v14M1331,1464h14M1331,1478h14" stroke="#b00" stroke-width="2"/>
<rect x="1328" y="1467" width="6" height="6" fill="#c00"/><rect x="1336" y="1458" width="6" height="6" fill="#c00"/><rect x="1344" y="1467" width="6" height="6" fill="#c00"/><rect x="1336" y="1478" width="6" height="6" fill="#c00"/>
<path d="M1374,1375v42M1367,1375h14M1367,1417h14" stroke="#2a2" stroke-width="2"/>
<path d="M1374,1353l4,7h-8z M1365,1392l4,7h-8z M1383,1398l4,7h-8z M1374,1425l4,7h-8z" fill="#2a2"/>
<path d="M1304,1423v-9h34v9" class="ax" stroke-width="1.5"/><path d="M1338,1357v-9h36v9" class="ax" stroke-width="1.5"/>
<g class="p" text-anchor="middle"><text x="1320" y="1408"><tspan font-style="italic">P</tspan>=0.003</text><text x="1357" y="1339"><tspan font-style="italic">P</tspan>=0.018</text></g>
<path d="M1061,1533v8M1329,1533v8" class="ax"/>
</svg>
</body></html>
